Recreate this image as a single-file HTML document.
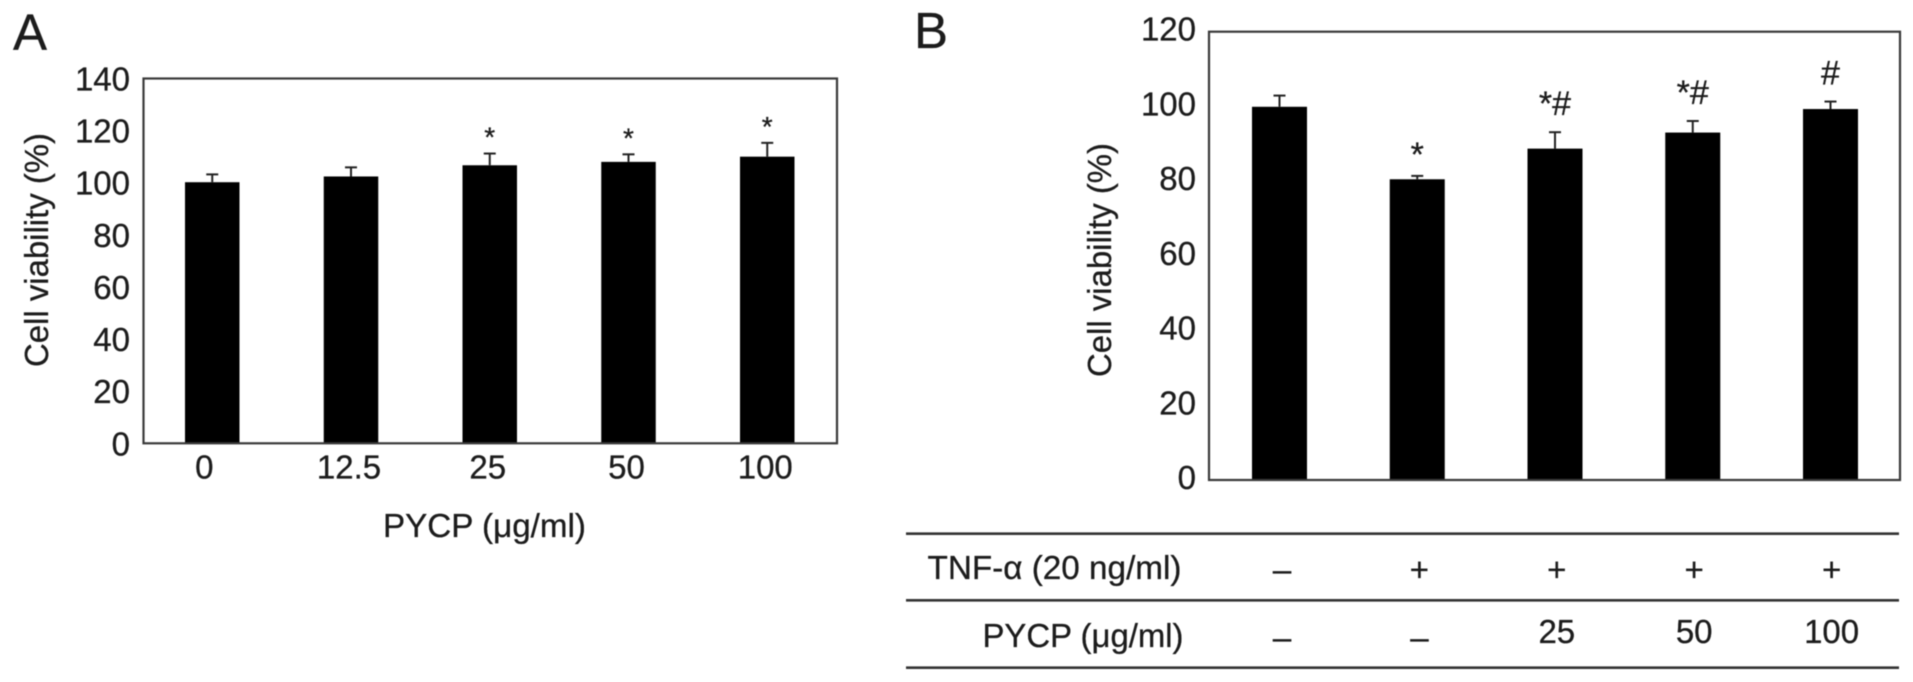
<!DOCTYPE html>
<html lang="en">
<head>
<meta charset="utf-8">
<title>Cell viability bar charts</title>
<style>
html,body{margin:0;padding:0;background:#fff;width:1913px;height:682px;overflow:hidden}
svg{display:block;filter:blur(0.55px)}
text{font-family:"Liberation Sans",sans-serif;fill:#1c1c1c;stroke:#1c1c1c;stroke-width:0.3px;font-size:33px}
</style>
</head>
<body>
<svg id="figure" xmlns="http://www.w3.org/2000/svg" width="1913" height="682" viewBox="0 0 1913 682">
  <rect width="1913" height="682" fill="#fff"/>
  <text x="13" y="50" style="font-size:51px">A</text>
  <text x="914" y="48" style="font-size:51px">B</text>
  <text x="48" y="250" text-anchor="middle" textLength="234" lengthAdjust="spacingAndGlyphs" transform="rotate(-90 48 250)">Cell viability (%)</text>
  <text x="1111" y="260" text-anchor="middle" textLength="234" lengthAdjust="spacingAndGlyphs" transform="rotate(-90 1111 260)">Cell viability (%)</text>
  <text x="484.5" y="537" text-anchor="middle" textLength="203" lengthAdjust="spacingAndGlyphs">PYCP (μg/ml)</text>
  <line x1="906" x2="1899" y1="533.7" y2="533.7" stroke="#333" stroke-width="2.6"/>
  <line x1="906" x2="1899" y1="600.3" y2="600.3" stroke="#333" stroke-width="2.6"/>
  <line x1="906" x2="1899" y1="667.7" y2="667.7" stroke="#333" stroke-width="2.6"/>
  <text x="1054.5" y="579" text-anchor="middle" textLength="254" lengthAdjust="spacingAndGlyphs">TNF-α (20 ng/ml)</text>
  <text x="1083" y="647" text-anchor="middle" textLength="201" lengthAdjust="spacingAndGlyphs">PYCP (μg/ml)</text>
</svg>
<script>
// Panel A data
const categoriesA = ['0', '12.5', '25', '50', '100'];
const valuesA = [100.2, 102.4, 106.7, 108, 110];
const errorsA = [3, 3.5, 4.5, 2.9, 5.3];
const marksA = ['', '', '*', '*', '*'];
const ticksA = [0, 20, 40, 60, 80, 100, 120, 140];

// Panel B data
const categoriesB = ['control', 'TNF', 'TNF+25', 'TNF+50', 'TNF+100'];
const valuesB = [99.9, 80.5, 88.7, 93, 99.3];
const errorsB = [3, 0.9, 4.4, 3.1, 2];
const marksB = ['', '*', '*#', '*#', '#'];
const ticksB = [0, 20, 40, 60, 80, 100, 120];

// Treatment table beneath panel B
const tnfRow = ['–', '+', '+', '+', '+'];
const pycpRow = ['–', '–', '25', '50', '100'];

const NS = 'http://www.w3.org/2000/svg';
const figure = document.getElementById('figure');

function make(tag, attrs, text) {
  const e = document.createElementNS(NS, tag);
  for (const k in attrs) e.setAttribute(k, attrs[k]);
  if (text !== undefined) e.textContent = text;
  figure.appendChild(e);
  return e;
}

function drawPanel(id, p, categories, values, errors, marks, ticks, showCategories) {
  const yMax = ticks[ticks.length - 1];
  const yScale = v => p.bottom - (v / yMax) * (p.bottom - p.top);
  const xBar = i => p.firstBar + i * p.step;
  const xCenter = i => xBar(i) + p.barWidth / 2;

  ticks.forEach(t => {
    const label = make('text', {x: p.tickRight, y: yScale(t) + p.tickShift + 11, 'text-anchor': 'end'}, String(t));
    
    
  });

  categories.forEach((c, i) => {
    const bar = make('rect', {x: xBar(i), y: yScale(values[i]), width: p.barWidth, height: yScale(0) - yScale(values[i]), fill: '#000'});
    
    

    const errTop = yScale(values[i] + errors[i]);
    const stem = make('line', {x1: xCenter(i), x2: xCenter(i), y1: yScale(values[i]), y2: errTop, stroke: '#222', 'stroke-width': 2});
    
    

    const cap = make('line', {x1: xCenter(i) - 6, x2: xCenter(i) + 6, y1: errTop, y2: errTop, stroke: '#222', 'stroke-width': 2});
    
    

    if (marks[i]) {
      const gap = marks[i].includes('#') ? p.markGapHash : p.markGap;
      const mark = make('text', {x: xCenter(i) + p.markShiftX, y: errTop - gap + p.markBase, 'text-anchor': 'middle'}, marks[i]);
      mark.style.fontSize = p.markSize + 'px';
      
      
    }

    if (showCategories) {
      const nudge = c.length === 1 ? -8 : -2;
      const label = make('text', {x: xCenter(i) + nudge, y: p.bottom + 35, 'text-anchor': 'middle'}, c);
      
      
    }
  });

  const frame = make('rect', {x: p.left, y: p.top, width: p.right - p.left, height: p.bottom - p.top, fill: 'none', stroke: '#3a3a3a', 'stroke-width': 2.2});
  
  
}

drawPanel('a', {left: 143.5, right: 837, top: 78.5, bottom: 443.3, firstBar: 185, step: 138.75, barWidth: 54.5, tickRight: 130, tickShift: 1, markGap: 20, markGapHash: 20, markBase: 13, markSize: 28, markShiftX: 0},
  categoriesA, valuesA, errorsA, marksA, ticksA, true);

drawPanel('b', {left: 1209, right: 1900, top: 31.7, bottom: 480, firstBar: 1252, step: 137.75, barWidth: 55, tickRight: 1196, tickShift: -2, markGap: 21, markGapHash: 28, markBase: 11, markSize: 34, markShiftX: 0},
  categoriesB, valuesB, errorsB, marksB, ticksB, false);

// Table cells share the bar columns of panel B
const tableCol = i => 1282 + i * 137.4;
tnfRow.forEach((v, i) => {
  const cell = make('text', {x: tableCol(i), y: 581, 'text-anchor': 'middle'}, v);
  
  
});
pycpRow.forEach((v, i) => {
  const cell = make('text', {x: tableCol(i), y: v === '–' ? 649 : 643, 'text-anchor': 'middle'}, v);
  
  
});
</script>
</body>
</html>
